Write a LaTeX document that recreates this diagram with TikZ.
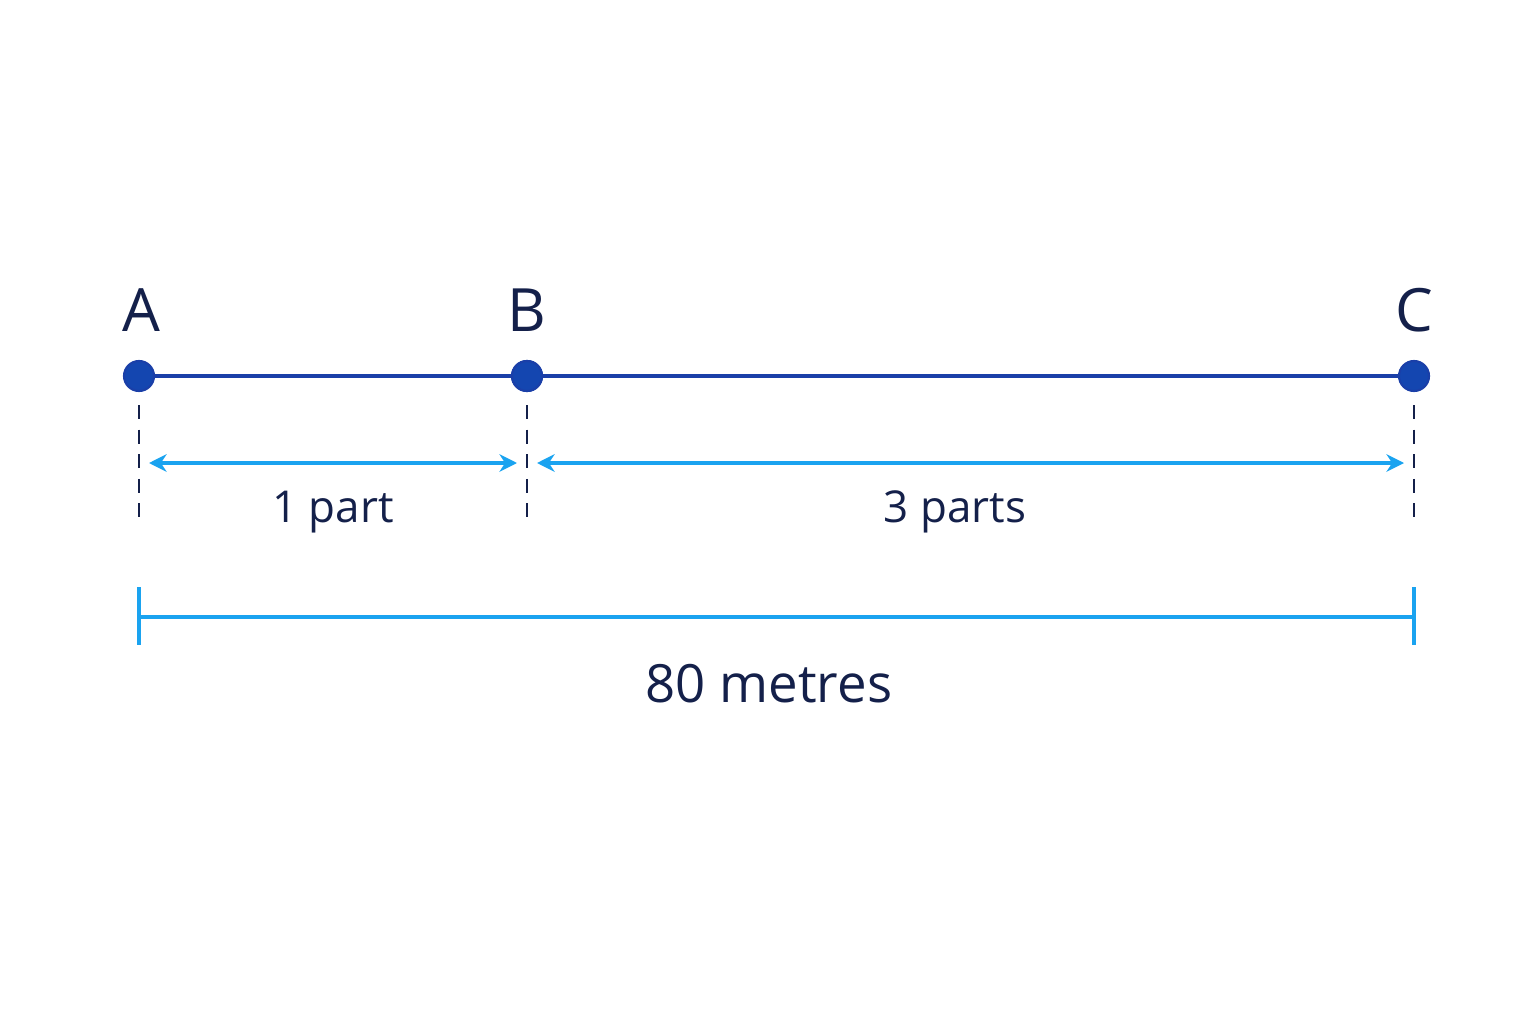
\documentclass[tikz,border=0pt]{standalone}
\usepackage{fontspec}
\setmainfont{Open Sans}
\usetikzlibrary{arrows.meta}
\definecolor{segblue}{HTML}{1A3FA8}
\definecolor{dotblue}{HTML}{1446B0}
\definecolor{dimblue}{HTML}{1AA3F0}
\definecolor{navy}{HTML}{14204A}
\tikzset{
  pt/.style={circle,fill=dotblue,draw=segblue,line width=0.6pt,minimum size=0.3cm,inner sep=0pt},
  lbl/.style={text=navy,font=\fontsize{17}{20}\selectfont},
  dimtext/.style={text=navy,font=\fontsize{12.5}{15}\selectfont},
  guide/.style={dashed,navy,line width=0.6pt,dash pattern=on 4pt off 3pt},
  dim/.style={dimblue,line width=0.9pt,{Stealth[length=5pt,width=5pt]}-{Stealth[length=5pt,width=5pt]}}
}
\begin{document}
\begin{tikzpicture}
\useasboundingbox (0,0) rectangle (15.36,10.24);
% points
\node[pt] (A) at (1.39,6.48) {};
\node[pt] (B) at (5.27,6.48) {};
\node[pt] (C) at (14.14,6.48) {};
\node[lbl] (la) at (1.41,7.14) {A};
\node[lbl] (lb) at (5.27,7.14) {B};
\node[lbl] (lc) at (14.14,7.14) {C};
\draw[segblue,line width=1.4pt] (A) -- (B) -- (C);
\node[pt] at (B) {};
% guides
\foreach \P in {A,B,C}{
  \coordinate (\P top) at ([yshift=-0.29cm]\P.center);
  \coordinate (\P bot) at ([yshift=-1.49cm]\P.center);
  \draw[guide] (\P top) -- (\P bot);
}
% dimension arrows
\coordinate (a1) at (1.49,5.61);
\coordinate (b1) at (5.17,5.61);
\coordinate (b2) at (5.37,5.61);
\coordinate (c2) at (14.04,5.61);
\draw[dim] (a1) -- (b1);
\draw[dim] (b2) -- (c2);
\node[dimtext] (one) at (3.33,5.12) {1 part};
\node[dimtext] (three) at (9.55,5.12) {3 parts};
% total
\coordinate (t1) at (1.39,4.07);
\coordinate (t2) at (14.14,4.07);
\draw[dimblue,line width=1.1pt] (t1) -- (t2);
\draw[dimblue,line width=1.1pt] ([yshift=0.3cm]t1) -- ([yshift=-0.28cm]t1);
\draw[dimblue,line width=1.1pt] ([yshift=0.3cm]t2) -- ([yshift=-0.28cm]t2);
\node[dimtext,font=\fontsize{15}{18}\selectfont] (tot) at (7.69,3.40) {80 metres};
\end{tikzpicture}
\end{document}
